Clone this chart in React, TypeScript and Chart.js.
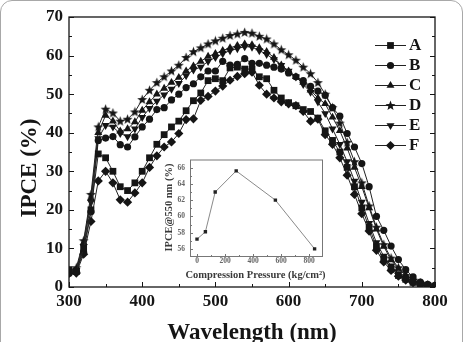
import { useEffect, useRef } from 'react';
import { Chart, registerables } from 'chart.js';
import { drawPoint } from 'chart.js/helpers';

Chart.register(...registerables);

// Wavelength grid (nm)
const WAVELENGTH = [
  300, 310, 320, 330, 340, 350, 360, 370, 380, 390,
  400, 410, 420, 430, 440, 450, 460, 470, 480, 490,
  500, 510, 520, 530, 540, 550, 560, 570, 580, 590,
  600, 610, 620, 630, 640, 650, 660, 670, 680, 690,
  700, 710, 720, 730, 740, 750, 760, 770, 780, 790, 800,
];

// IPCE (%) per sample
const IPCE_A = [
  4.5, 4.0, 10.0, 20.0, 34.5, 33.5, 30.0, 26.0, 25.0, 27.0,
  30.0, 33.5, 37.0, 39.5, 41.5, 43.0, 45.7, 48.3, 50.3, 53.5,
  54.0, 53.5, 56.8, 57.0, 56.5, 56.5, 54.5, 54.0, 51.0, 49.0,
  47.8, 47.0, 46.0, 45.5, 43.8, 40.5, 38.0, 35.0, 31.0, 26.0,
  20.5, 15.5, 10.5, 7.3, 5.0, 3.0, 2.0, 1.2, 0.7, 0.4, 0.2,
];
const IPCE_B = [
  3.5, 4.2, 9.0, 19.5, 38.0, 38.6, 39.0, 36.9, 36.3, 38.9,
  41.5, 43.5, 46.0, 46.5, 48.5, 50.0, 51.7, 52.7, 54.5, 56.0,
  56.0, 58.5, 57.5, 57.7, 59.2, 58.0, 58.0, 57.5, 57.0, 56.5,
  55.5, 54.5, 53.5, 52.0, 50.8, 49.7, 46.5, 44.3, 39.8, 36.3,
  32.0, 26.0, 18.3, 14.7, 10.6, 7.1, 4.5, 2.6, 1.3, 0.7, 0.4,
];
const IPCE_C = [
  4.0, 4.5, 11.5, 23.0, 40.0, 44.5, 43.0, 40.4, 41.0, 42.8,
  45.8, 48.0, 50.0, 51.5, 53.0, 54.3, 56.0, 57.3, 58.5, 59.8,
  60.5, 61.3, 62.0, 62.6, 63.0, 62.8, 62.0, 61.0, 59.5, 57.5,
  56.0, 54.5, 53.0, 51.0, 49.0, 47.5, 44.0, 40.5, 36.0, 31.0,
  26.0, 20.5, 15.0, 10.5, 7.0, 4.8, 3.0, 1.8, 1.0, 0.5, 0.3,
];
const IPCE_D = [
  4.2, 5.0, 12.0, 24.0, 41.5, 46.1, 45.1, 43.0, 43.5, 45.4,
  48.6, 51.0, 53.0, 54.5, 56.0, 57.5, 59.5, 61.0, 62.0, 63.0,
  63.8, 64.5, 65.2, 65.6, 66.0, 65.8, 65.0, 64.3, 63.0, 61.5,
  60.2, 58.8, 57.0, 55.3, 53.0, 50.0, 46.5, 42.5, 37.5, 32.5,
  27.0, 21.0, 15.5, 11.0, 7.5, 5.0, 3.0, 1.8, 1.0, 0.5, 0.3,
];
const IPCE_E = [
  3.8, 4.3, 10.5, 22.0, 38.5, 41.9, 41.5, 39.8, 39.0, 41.0,
  44.0, 46.3, 48.2, 49.8, 51.3, 52.8, 54.8, 56.3, 57.0, 58.5,
  59.5, 60.5, 61.3, 61.8, 62.3, 62.2, 61.3, 60.3, 59.0, 57.5,
  56.0, 54.5, 52.5, 50.5, 48.0, 45.0, 41.0, 37.0, 32.5, 27.5,
  22.0, 16.5, 11.5, 8.0, 5.5, 3.5, 2.3, 1.4, 0.9, 0.5, 0.3,
];
const IPCE_F = [
  3.5, 3.6, 8.5, 17.0, 27.5, 30.0, 27.0, 22.6, 22.0, 24.4,
  27.0, 31.0, 34.0, 36.3, 37.6, 39.8, 43.4, 43.6, 48.4, 49.4,
  50.8, 52.1, 53.6, 54.6, 55.3, 55.7, 52.3, 50.0, 49.0, 48.0,
  47.5, 47.0, 45.5, 43.0, 43.5, 39.5, 37.0, 33.5, 29.0, 24.0,
  19.0, 14.5, 9.5, 6.5, 4.3, 2.8, 1.8, 1.1, 0.6, 0.3, 0.2,
];

const SAMPLE_LABELS = ['A', 'B', 'C', 'D', 'E', 'F'];
const X_TICKS = [300, 400, 500, 600, 700, 800];
const Y_TICKS = [0, 10, 20, 30, 40, 50, 60, 70];

// Inset: IPCE at 550 nm versus compression pressure
const PRESSURE = [0, 60, 130, 280, 560, 840];
const IPCE_550 = [57.2, 58.1, 63.0, 65.6, 62.0, 56.0];
const INSET_X_TICKS = [0, 200, 400, 600, 800];
const INSET_Y_TICKS = [56, 58, 60, 62, 64, 66];

const SERIF = '"Liberation Serif", "Times New Roman", serif';
const INK = '#151515';

function makeStar(): HTMLCanvasElement {
  const c = document.createElement('canvas');
  c.width = 11;
  c.height = 11;
  const g = c.getContext('2d')!;
  g.fillStyle = INK;
  g.beginPath();
  for (let i = 0; i < 10; i++) {
    const r = i % 2 === 0 ? 5.2 : 2.2;
    const a = -Math.PI / 2 + (i * Math.PI) / 5;
    const px = 5.5 + r * Math.cos(a);
    const py = 5.8 + r * Math.sin(a);
    if (i === 0) g.moveTo(px, py);
    else g.lineTo(px, py);
  }
  g.closePath();
  g.fill();
  return c;
}

function drawInwardTicks(
  ctx: CanvasRenderingContext2D,
  chart: any,
  xTicks: number[],
  yTicks: number[],
  major: number,
  minor: number,
  mirrorY: boolean,
) {
  const { chartArea: a, scales } = chart;
  const x = scales.x;
  const y = scales.y;
  const mids = (arr: number[]) => arr.slice(1).map((v, i) => (v + arr[i]) / 2);
  ctx.beginPath();
  const xs = [...xTicks.map((v) => [v, major]), ...mids(xTicks).map((v) => [v, minor])];
  for (const [v, len] of xs) {
    const px = Math.round(x.getPixelForValue(v)) + 0.5;
    ctx.moveTo(px, a.bottom);
    ctx.lineTo(px, a.bottom - len);
  }
  const ys = [...yTicks.map((v) => [v, major]), ...mids(yTicks).map((v) => [v, minor])];
  for (const [v, len] of ys) {
    const py = Math.round(y.getPixelForValue(v)) + 0.5;
    ctx.moveTo(a.left, py);
    ctx.lineTo(a.left + len, py);
    if (mirrorY) {
      ctx.moveTo(a.right, py);
      ctx.lineTo(a.right - len, py);
    }
  }
  ctx.stroke();
}

export default function App() {
  const mainRef = useRef<HTMLCanvasElement>(null);
  const insetRef = useRef<HTMLCanvasElement>(null);

  useEffect(() => {
    const star = makeStar();
    const series = [IPCE_A, IPCE_B, IPCE_C, IPCE_D, IPCE_E, IPCE_F];
    const styles: { pointStyle: any; radius: number; rotation: number }[] = [
      { pointStyle: 'rect', radius: 4.8, rotation: 0 },
      { pointStyle: 'circle', radius: 3.6, rotation: 0 },
      { pointStyle: 'triangle', radius: 4.6, rotation: 0 },
      { pointStyle: star, radius: 4, rotation: 0 },
      { pointStyle: 'triangle', radius: 4.6, rotation: 180 },
      { pointStyle: 'rectRot', radius: 4.6, rotation: 0 },
    ];

    const mainDecor = {
      id: 'mainDecor',
      afterDraw(chart: any) {
        const { ctx, chartArea: a } = chart;
        ctx.save();
        ctx.strokeStyle = INK;
        ctx.lineWidth = 1.3;
        ctx.strokeRect(a.left, a.top, a.right - a.left, a.bottom - a.top);
        ctx.lineWidth = 1;
        drawInwardTicks(ctx, chart, X_TICKS, Y_TICKS, 5, 3, true);

        // legend
        ctx.font = `bold 17px ${SERIF}`;
        ctx.textBaseline = 'middle';
        ctx.textAlign = 'left';
        SAMPLE_LABELS.forEach((label, i) => {
          const ly = 45 + i * 20;
          ctx.strokeStyle = '#222';
          ctx.lineWidth = 1;
          ctx.beginPath();
          ctx.moveTo(375, ly + 0.5);
          ctx.lineTo(406, ly + 0.5);
          ctx.stroke();
          ctx.fillStyle = INK;
          const st = styles[i];
          drawPoint(ctx, { pointStyle: st.pointStyle, radius: st.radius, rotation: st.rotation, borderWidth: 0 } as any, 390.5, ly + 0.5);
          ctx.fillStyle = INK;
          ctx.fillText(label, 409, ly + 1);
        });

        // axis titles
        ctx.fillStyle = INK;
        ctx.font = `bold 23px ${SERIF}`;
        ctx.textAlign = 'center';
        ctx.textBaseline = 'alphabetic';
        ctx.fillText('Wavelength (nm)', 252, 339);
        ctx.save();
        ctx.translate(36, 168);
        ctx.rotate(-Math.PI / 2);
        ctx.fillText('IPCE (%)', 0, 0);
        ctx.restore();
        ctx.restore();
      },
    };

    const tickFont = { family: SERIF, size: 17, weight: 'bold' as const };

    const main = new Chart(mainRef.current!, {
      type: 'line',
      data: {
        datasets: series.map((vals, i) => ({
          label: SAMPLE_LABELS[i],
          data: WAVELENGTH.map((w, j) => ({ x: w, y: vals[j] })),
          borderColor: '#222',
          borderWidth: 1,
          pointStyle: styles[i].pointStyle,
          pointRadius: styles[i].radius,
          pointRotation: styles[i].rotation,
          pointBackgroundColor: INK,
          pointBorderColor: INK,
          pointBorderWidth: 0,
          tension: 0,
        })),
      },
      options: {
        responsive: false,
        animation: false,
        devicePixelRatio: 1,
        layout: { padding: { top: 17, right: 32, left: 0, bottom: 0 } },
        plugins: { legend: { display: false }, tooltip: { enabled: false } },
        scales: {
          x: {
            type: 'linear',
            min: 300,
            max: 800,
            afterBuildTicks: (s: any) => {
              s.ticks = X_TICKS.map((v) => ({ value: v }));
            },
            afterFit: (s: any) => {
              s.height = 55;
            },
            ticks: { font: tickFont, color: INK, padding: 4, maxRotation: 0, autoSkip: false },
            grid: { display: false, drawTicks: false },
            border: { display: false },
          },
          y: {
            type: 'linear',
            min: 0,
            max: 70,
            afterBuildTicks: (s: any) => {
              s.ticks = Y_TICKS.map((v) => ({ value: v }));
            },
            afterFit: (s: any) => {
              s.width = 69;
            },
            ticks: { font: tickFont, color: INK, padding: 6, autoSkip: false },
            grid: { display: false, drawTicks: false },
            border: { display: false },
          },
        },
      },
      plugins: [mainDecor],
    });

    const insetDecor = {
      id: 'insetDecor',
      beforeDraw(chart: any) {
        const { ctx, chartArea: a } = chart;
        ctx.save();
        ctx.fillStyle = '#ffffff';
        ctx.fillRect(a.left, a.top, a.right - a.left, a.bottom - a.top);
        ctx.restore();
      },
      afterDraw(chart: any) {
        const { ctx, chartArea: a } = chart;
        ctx.save();
        ctx.strokeStyle = '#777';
        ctx.lineWidth = 1;
        ctx.strokeRect(a.left + 0.5, a.top + 0.5, a.right - a.left - 1, a.bottom - a.top - 1);
        drawInwardTicks(ctx, chart, INSET_X_TICKS, INSET_Y_TICKS, 3, 2, false);
        ctx.fillStyle = '#3a3a3a';
        ctx.font = `bold 10.5px ${SERIF}`;
        ctx.textAlign = 'center';
        ctx.textBaseline = 'middle';
        ctx.fillText('Compression Pressure (kg/cm\u00B2)', 105.5, 125);
        ctx.save();
        ctx.translate(19.5, 57.5);
        ctx.rotate(-Math.PI / 2);
        ctx.fillText('IPCE@550 nm (%)', 0, 0);
        ctx.restore();
        ctx.restore();
      },
    };

    const insetFont = { family: SERIF, size: 7.5, weight: 'bold' as const };

    const inset = new Chart(insetRef.current!, {
      type: 'line',
      data: {
        datasets: [
          {
            label: 'IPCE@550 nm',
            data: PRESSURE.map((p, i) => ({ x: p, y: IPCE_550[i] })),
            borderColor: '#8a8a8a',
            borderWidth: 1,
            pointStyle: 'rect',
            pointRadius: 2.4,
            pointBackgroundColor: '#222',
            pointBorderColor: '#222',
            pointBorderWidth: 0,
            tension: 0,
          },
        ],
      },
      options: {
        responsive: false,
        animation: false,
        devicePixelRatio: 1,
        layout: { padding: { top: 5, right: 7, left: 0, bottom: 0 } },
        plugins: { legend: { display: false }, tooltip: { enabled: false } },
        scales: {
          x: {
            type: 'linear',
            min: -50,
            max: 900,
            afterBuildTicks: (s: any) => {
              s.ticks = INSET_X_TICKS.map((v) => ({ value: v }));
            },
            afterFit: (s: any) => {
              s.height = 28;
            },
            ticks: { font: insetFont, color: '#666', padding: 0, maxRotation: 0, autoSkip: false },
            grid: { display: false, drawTicks: false },
            border: { display: false },
          },
          y: {
            type: 'linear',
            min: 55,
            max: 67,
            afterBuildTicks: (s: any) => {
              s.ticks = INSET_Y_TICKS.map((v) => ({ value: v }));
            },
            afterFit: (s: any) => {
              s.width = 40;
            },
            ticks: { font: insetFont, color: '#666', padding: 5, autoSkip: false },
            grid: { display: false, drawTicks: false },
            border: { display: false },
          },
        },
      },
      plugins: [insetDecor],
    });

    return () => {
      main.destroy();
      inset.destroy();
    };
  }, []);

  return (
    <div
      style={{
        position: 'fixed',
        left: 0,
        top: 0,
        width: 467,
        height: 342,
        background: '#fff',
        overflow: 'hidden',
      }}
    >
      <div
        style={{
          position: 'absolute',
          left: 0,
          top: 0,
          width: 461,
          height: 380,
          border: '1.5px solid #a8a8a8',
          borderRadius: 12,
        }}
      />
      <canvas ref={mainRef} width={467} height={342} style={{ position: 'absolute', left: 0, top: 0 }} />
      <canvas ref={insetRef} width={180} height={135} style={{ position: 'absolute', left: 150, top: 150 }} />
    </div>
  );
}
